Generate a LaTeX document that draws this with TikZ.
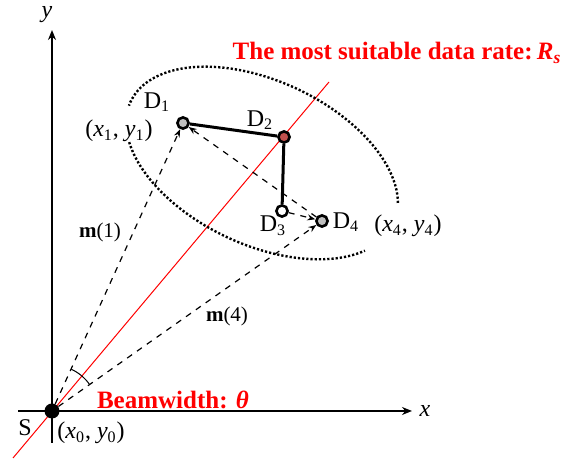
\documentclass[tikz,border=0pt]{standalone}
\usepackage{fontspec}
\setmainfont{Liberation Serif}
\usetikzlibrary{arrows.meta,positioning}
\definecolor{rateRed}{HTML}{FF0000}
\definecolor{headRed}{HTML}{C0504D}
\definecolor{devGray}{HTML}{BFBFBF}

\begin{document}
\begin{tikzpicture}[
  x=0.5pt, y=0.5pt,
  font=\fontsize{12}{14}\selectfont,
  dev/.style={circle, draw, line width=1.3pt, inner sep=0pt, minimum size=5.6pt},
  src/.style={circle, fill, inner sep=0pt, minimum size=7.5pt},
  axis/.style={line width=0.8pt, -{Stealth[length=5pt,width=4pt]}},
  link/.style={line width=1.5pt},
  beam/.style={dashed, line width=0.6pt, -{Stealth[length=4pt,width=3pt]}},
  ring/.style={line width=1.2pt, dash pattern=on 1.1pt off 1pt},
  mlab/.style={font=\fontsize{10.5}{12}\selectfont},
  redtext/.style={text=rateRed, font=\fontsize{12.5}{15}\selectfont\bfseries}
]
\useasboundingbox (0,0) rectangle (569,460);

% axes and beam direction
\coordinate (xlo) at (18,49);
\coordinate (xhi) at (412,49);
\coordinate (ylo) at (52,17);
\coordinate (yhi) at (52,430);
\coordinate (rlo) at (13,2);
\coordinate (rhi) at (329,378);
\draw[axis] (xlo) -- (xhi);
\draw[axis] (ylo) -- (yhi);
\draw[rateRed, line width=0.5pt] (rlo) -- (rhi);

% cluster boundary
\begin{scope}[shift={(262,297)}, rotate=-25]
  \draw[ring] (15:72.5pt and 41pt) arc[start angle=15, end angle=183, x radius=72.5pt, y radius=41pt];
  \draw[ring] (207:72.5pt and 41pt) arc[start angle=207, end angle=334, x radius=72.5pt, y radius=41pt];
\end{scope}

% source and devices
\node[src] (S) at (52,49) {};
\node[dev, fill=devGray] (D1) at (183,337) {};
\node[dev, fill=headRed] (D2) at (284,323) {};
\node[dev, fill=white] (D3) at (282,249) {};
\node[dev, fill=devGray] (D4) at (322,239) {};

\draw[link] (D1) -- (D2);
\draw[link] (D2) -- (D3);
\draw[beam] (S) -- (D1);
\draw[beam] (S) -- (D4);
\draw[beam] (D4) -- (D1);
\draw[beam] (D3) -- (D4);
\draw[line width=0.5pt] ([shift={(35:23pt)}]S.center) arc[start angle=35, end angle=65, radius=23pt];

% labels
\node (ylab) at (47,445) {\textit{y}};
\node (xlab) at (425,49) {\textit{x}};
\node (Slab) at (25,32) {S};
\node[anchor=west, inner sep=0pt] (p0) at (57,27) {(\textit{x}\textsubscript{0}, \textit{y}\textsubscript{0})};
\node (lD1) at (157,358) {D\textsubscript{1}};
\node (p1) at (119,329) {(\textit{x}\textsubscript{1}, \textit{y}\textsubscript{1})};
\node (lD2) at (260,340) {D\textsubscript{2}};
\node (lD3) at (273,234) {D\textsubscript{3}};
\node (lD4) at (346,238) {D\textsubscript{4}};
\node (p4) at (408,234) {(\textit{x}\textsubscript{4}, \textit{y}\textsubscript{4})};
\node[mlab] (m1) at (100,228) {\textbf{m}(1)};
\node[mlab] (m4) at (227,144) {\textbf{m}(4)};
\node[redtext] (rate) at (397,407) {The most suitable data rate:\,\textit{R}\textsubscript{\textit{s}}};
\node[redtext] (bw) at (173,60) {Beamwidth: \textit{θ}};
\end{tikzpicture}
\end{document}
